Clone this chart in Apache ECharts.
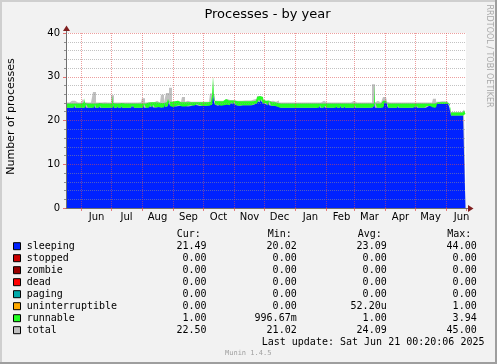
<!DOCTYPE html>
<html><head><meta charset="utf-8">
<script src="https://cdn.jsdelivr.net/npm/echarts@6/dist/echarts.min.js"></script>
<style>html,body{margin:0;padding:0;background:#f2f2f2}#c{width:497px;height:364px}</style>
</head><body><div id="c"></div>
<script>
// ---- data ----
const startDay = [2024, 4, 17];   // first daily sample (May 17 2024), one sample per day
const dayCount = 400;
const monthNames = ['Jan','Feb','Mar','Apr','May','Jun','Jul','Aug','Sep','Oct','Nov','Dec'];
const yTicks = [0, 10, 20, 30, 40];

const sleeping = [
22.9,22.9,22.9,22.9,22.9,22.9,22.9,22.9,23.6,22.9,22.9,22.9,22.9,22.9,22.9,22.9,22.9,22.9,22.9,23.7,
22.9,22.9,22.9,22.9,22.9,22.9,22.9,22.9,23.7,22.9,22.9,22.9,22.9,23.4,22.9,22.9,22.9,22.9,22.9,22.9,
22.9,22.9,22.9,22.9,22.9,22.9,22.9,23.8,22.9,22.9,22.9,23.4,22.9,22.9,22.9,23.4,22.9,22.9,22.9,22.9,
22.9,22.9,22.9,22.9,22.9,23.5,22.9,23.5,22.9,22.9,22.9,22.9,22.9,22.9,22.9,22.9,22.9,23.8,22.9,22.9,
22.9,22.9,22.9,23.5,23.0,23.0,23.6,23.0,23.1,23.0,22.9,23.0,23.1,23.0,22.9,23.0,23.2,23.0,24.0,23.1,
23.2,23.3,24.6,24.0,23.3,23.2,23.3,23.1,23.4,23.2,23.3,23.2,23.3,23.5,23.2,23.3,23.2,23.1,23.3,23.2,
23.3,23.2,23.4,23.6,23.3,23.5,23.3,23.6,23.4,23.3,23.5,23.7,23.4,23.3,23.5,23.6,23.4,23.3,23.5,23.4,
23.4,23.3,23.5,23.4,23.5,23.6,25.2,26.1,24.2,23.6,23.5,23.4,23.6,23.5,23.7,23.4,23.5,23.6,23.5,23.4,
24.0,23.6,23.8,23.5,24.2,23.7,23.6,24.4,23.8,23.6,23.5,23.4,23.5,23.4,23.5,23.6,23.5,23.5,23.6,23.5,
23.5,23.6,23.5,23.4,23.6,23.5,23.6,23.5,23.7,23.8,23.9,24.4,24.8,24.2,25.0,24.4,24.0,23.9,24.3,24.0,
23.6,23.4,24.5,23.5,23.3,23.4,23.5,23.3,23.4,23.4,23.3,23.2,22.9,22.9,22.9,23.3,22.9,22.9,22.9,22.9,
22.9,22.9,22.9,22.9,22.9,22.9,22.9,22.9,22.9,22.9,23.3,22.9,22.9,22.9,22.9,22.9,22.9,22.9,22.9,22.9,
22.9,22.9,22.9,22.9,22.9,22.9,22.9,22.9,22.9,22.9,22.9,22.9,22.9,23.5,22.9,22.9,22.9,22.9,23.4,22.9,
22.9,22.9,22.9,22.9,22.9,22.9,22.9,22.9,22.9,22.9,23.4,22.9,22.9,22.9,23.5,22.9,22.9,22.9,23.4,22.9,
22.9,22.9,22.9,22.9,22.9,22.9,22.9,22.9,23.5,22.9,22.9,22.9,22.9,22.9,22.9,22.9,22.9,22.9,22.9,22.9,
22.9,22.9,22.9,22.9,22.9,22.9,23.0,23.2,24.2,22.9,23.3,22.9,22.9,22.9,22.9,23.2,22.9,23.4,24.2,24.2,
24.0,23.4,22.9,22.9,22.9,22.9,22.9,22.9,22.9,22.9,22.9,23.4,22.9,22.9,22.9,22.9,22.9,22.9,22.9,22.9,
22.9,22.9,22.9,22.9,22.9,22.9,22.9,22.9,23.4,22.9,23.4,22.9,22.9,22.9,22.9,22.9,22.9,22.9,22.9,22.9,
22.9,23.3,23.3,23.3,23.3,23.3,23.3,23.0,23.0,23.0,23.8,23.8,23.8,23.8,23.8,23.8,23.8,23.8,23.8,23.8,
23.8,23.8,23.8,23.2,22.2,21.15,21.15,21.15,21.15,21.15,21.15,21.15,21.15,21.15,21.15,21.15,21.15,21.15,21.5,21.5
];
const runnable = [
1,1,1,1,1,1,1,1,0.3,1,1,1,1,1,1,1,1,1.3,2.2,0.3,
1,1,1,1,1,1,1,1,0.3,1,1,1,1,0.6,1,1,1,1,1,1,
1,1,1,1,1,1,2.8,0.2,1,1,1,0.6,1,1,1,0.6,1,1,1,1,
1,1,1,1,1,0.4,1,0.4,1,1,1,1,1,1,1,1,1,0.2,1,1,
1,1.2,1.2,0.7,1.2,1.2,0.6,1.1,1.1,1.2,1.6,1.1,1.0,1.0,1.1,1.0,0.9,1.0,0.2,1.0,
1.0,1.0,0.3,0.3,1.0,1.1,1.0,1.1,1.0,1.1,1.0,1.3,1.2,0.8,1.0,1.0,1.0,1.1,0.9,1.0,
0.9,1.0,0.8,0.6,0.9,0.7,0.9,0.6,0.8,0.9,0.7,0.5,0.8,0.9,0.7,0.6,0.8,0.9,0.7,0.8,
0.8,0.9,0.7,0.8,0.8,0.8,0.6,3.9,0.3,0.8,0.9,1.0,0.8,0.9,0.7,1.0,0.9,0.8,1.3,1.5,
0.8,1.0,0.8,1.1,0.5,0.9,1.0,0.3,0.8,0.9,0.9,1.0,0.9,1.0,0.9,0.8,0.9,0.9,0.8,0.9,
0.9,0.8,0.9,1.0,0.8,0.9,0.8,0.9,0.8,0.7,0.8,1.0,0.8,1.4,0.6,1.0,1.4,0.9,0.3,0.5,
0.6,0.8,0.1,0.7,0.9,0.8,0.7,0.9,0.8,0.8,0.8,0.8,1.0,1.0,1.0,0.6,1.0,1.0,1.0,1.0,
1,1,1,1,1,1,1,1,1,1,0.6,1,1,1,1,1,1,1,1,1,
1,1,1,1,1,1,1,1,1,1,1,1,1,0.4,1,1,1,1,0.5,1,
1,1,1,1,1,1,1,1,1,1,0.5,1,1,1,0.4,1,1,1,0.5,1,
1,1,1,1,1,1,1,1.4,0.4,1,1,1,1,1,1,1,1,1,1,1,
1,1,1,1,1,1,0.9,0.7,3.9,1,0.6,1,1,1,1,0.7,1,1.1,0.3,0.3,
0.5,0.5,1,1,1,1,1,1,1,1,1,0.5,1,1,1,1,1,1,1,1,
1,1,1,1,1,1,1,1,0.5,1,0.5,1,1,1,1,1,1,1,1,1,
1,0.6,0.6,0.6,0.6,0.6,0.6,0.9,0.9,0.9,0.4,0.4,0.4,0.4,0.4,0.4,0.6,0.4,0.6,0.4,
0.4,0.4,0.4,0.6,0.5,0.7,0.7,0.7,0.7,0.7,0.7,0.7,0.7,0.7,0.7,0.7,0.7,0.7,0.9,1.0
];
const total = [
24.1,24.1,24.1,24.1,24.1,24.1,24.5,24.5,24.5,24.1,24.1,24.1,24.1,24.1,24.1,24.1,24.1,24.9,25.1,24.2,
24.1,24.1,24.1,24.1,24.1,24.1,24.1,26.5,26.5,26.5,24.1,24.1,24.1,24.1,24.1,24.1,24.2,24.2,24.2,24.1,
24.1,24.1,24.1,24.1,24.1,25.8,25.8,25.8,24.1,24.1,24.1,24.1,24.1,24.1,24.1,24.1,24.1,24.1,24.1,24.1,
24.1,24.1,24.1,24.1,24.1,24.1,24.1,24.1,24.1,24.1,24.1,24.1,24.1,24.2,24.2,24.2,25.1,25.1,25.1,24.1,
24.1,24.2,24.2,24.2,24.2,24.2,24.2,24.1,24.1,24.2,24.5,24.2,24.1,24.1,24.1,25.9,25.9,25.9,24.2,24.1,
26.3,26.3,26.3,27.5,27.5,27.5,24.3,24.3,24.3,24.3,24.3,24.5,24.5,24.3,24.3,24.3,25.4,25.4,25.4,24.3,
24.3,24.5,24.5,24.5,24.3,24.3,24.3,24.3,24.3,24.3,24.3,24.3,24.3,24.3,24.3,24.3,24.3,24.3,24.3,24.3,
24.3,24.3,24.3,24.3,26.2,26.2,26.2,30.2,26.2,24.6,24.6,24.5,24.5,24.5,24.5,24.5,24.5,24.5,24.9,24.9,
24.9,24.7,24.7,24.7,24.7,24.7,24.7,24.7,24.7,24.5,24.5,24.5,24.5,24.5,24.5,24.5,24.6,24.6,24.6,24.6,
24.6,24.6,24.6,24.6,24.6,24.8,24.8,24.8,25.0,25.0,25.0,25.6,25.6,25.6,25.6,25.6,25.4,25.0,24.6,24.6,
24.4,24.4,24.6,24.4,24.4,24.5,24.5,24.5,24.5,24.3,24.6,24.6,24.6,24.1,24.1,24.1,24.1,24.1,24.1,24.1,
24.1,24.1,24.1,24.1,24.1,24.1,24.1,24.1,24.1,24.1,24.1,24.1,24.1,24.1,24.1,24.1,24.1,24.1,24.1,24.1,
24.1,24.1,24.1,24.1,24.1,24.1,24.1,24.1,24.1,24.1,24.1,24.1,24.1,24.1,24.1,24.5,24.5,24.5,24.1,24.1,
24.1,24.1,24.1,24.1,24.1,24.1,24.1,24.1,24.1,24.1,24.1,24.1,24.1,24.1,24.1,24.1,24.1,24.1,24.1,24.1,
24.1,24.1,24.1,24.1,24.1,24.1,24.5,24.5,24.5,24.1,24.1,24.1,24.1,24.1,24.1,24.1,24.1,24.1,24.1,24.1,
24.1,24.1,24.1,24.1,24.1,24.1,28.3,28.3,28.3,24.1,24.1,24.5,24.5,24.5,24.1,24.3,24.3,25.4,25.4,25.4,
25.4,24.3,24.1,24.1,24.1,24.1,24.1,24.1,24.1,24.1,24.1,24.1,24.1,24.1,24.1,24.1,24.1,24.1,24.1,24.1,
24.1,24.1,24.1,24.1,24.1,24.1,24.1,24.1,24.1,24.1,24.1,24.1,24.1,24.1,24.1,24.1,24.1,24.1,24.1,24.1,
24.1,24.1,24.1,24.1,24.1,24.1,24.1,25.0,25.0,25.0,24.3,24.3,24.3,24.3,24.3,24.4,24.4,24.4,24.4,24.4,
24.3,24.3,24.3,23.9,22.8,21.95,21.95,21.95,21.95,21.95,21.95,21.95,21.95,21.95,21.95,21.95,21.95,21.95,22.5,22.5
];

const legendNames = ['sleeping','stopped','zombie','dead','paging','uninterruptible','runnable','total'];
const legendColors = ['#0022ff','#cc0000','#990000','#ff0000','#00aaaa','#ffaa00','#22ff22','#c0c0c0'];
const curVals = ['21.49','0.00','0.00','0.00','0.00','0.00','1.00','22.50'];
const minVals = ['20.02','0.00','0.00','0.00','0.00','0.00','996.67m','21.02'];
const avgVals = ['23.09','0.00','0.00','0.00','0.00','52.20u','1.00','24.09'];
const maxVals = ['44.00','0.00','0.00','0.00','0.00','1.00','3.94','45.00'];
const colHeaders = ['Cur:','Min:','Avg:','Max:'];
const titleText = 'Processes - by year';
const yAxisTitle = 'Number of processes';
const sideText = 'RRDTOOL / TOBI OETIKER';
const lastUpdate = 'Last update: Sat Jun 21 00:20:06 2025';
const versionText = 'Munin 1.4.5';

// ---- build ----
const days = [];
const t0 = Date.UTC(startDay[0], startDay[1], startDay[2]);
for (let i = 0; i < dayCount; i++) days.push(new Date(t0 + i * 86400000).toISOString().slice(0, 10));
const monthStarts = days.filter(v => v.slice(8) === '01');

const MONO = '"DejaVu Sans Mono", monospace';
const SANS = '"DejaVu Sans", sans-serif';
const G = [];
function txt(x, y, text, opt) {
  opt = opt || {};
  G.push({type:'text', x:x, y:y, rotation:opt.rot || 0, z:10, silent:true,
    style:{text:text, fill:opt.fill || '#000', font:(opt.font || ('10px ' + MONO)),
      textAlign:opt.align || 'left', textVerticalAlign:'middle', align:opt.align || 'left', verticalAlign:'middle'}});
}
// border
G.push({type:'rect', shape:{x:0,y:0,width:497,height:2}, style:{fill:'#cfcfcf'}, silent:true});
G.push({type:'rect', shape:{x:0,y:0,width:2,height:364}, style:{fill:'#cfcfcf'}, silent:true});
G.push({type:'rect', shape:{x:0,y:362,width:497,height:2}, style:{fill:'#9e9e9e'}, silent:true});
G.push({type:'rect', shape:{x:495,y:0,width:2,height:364}, style:{fill:'#9e9e9e'}, silent:true});
// axis extensions and arrows
G.push({type:'line', shape:{x1:66.5,y1:29,x2:66.5,y2:33}, style:{stroke:'#707070',lineWidth:1}, z:10, silent:true});
G.push({type:'polygon', shape:{points:[[63,31],[66.5,25.5],[70,31]]}, style:{fill:'#801f1f'}, z:10, silent:true});
G.push({type:'line', shape:{x1:466,y1:208.5,x2:469,y2:208.5}, style:{stroke:'#707070',lineWidth:1}, z:10, silent:true});
G.push({type:'polygon', shape:{points:[[468,205],[473.5,208.5],[468,212]]}, style:{fill:'#801f1f'}, z:10, silent:true});
// titles
txt(267.5, 14.5, titleText, {align:'center', font:'13px ' + SANS});
txt(11, 116.5, yAxisTitle, {align:'center', font:'11px ' + SANS, rot:Math.PI/2});
txt(489.5, 56, sideText, {align:'center', font:'8px ' + SANS, fill:'#a8a8a8', rot:-Math.PI/2});
// legend table
const headX = [176.7, 267.7, 357.7, 447.3];
const valX = [206.5, 296.7, 386.7, 476.7];
colHeaders.forEach((h, k) => txt(headX[k], 234.5, h));
legendNames.forEach((n, r) => {
  const y = 246.7 + r * 12;
  G.push({type:'rect', shape:{x:13.5, y:y - 4, width:7, height:7}, style:{fill:legendColors[r], stroke:'#000', lineWidth:1}, z:10, silent:true});
  txt(26.7, y, n);
  [curVals, minVals, avgVals, maxVals].forEach((arr, k) => txt(valX[k], y, arr[r], {align:'right'}));
});
txt(261.7, 342.3, lastUpdate);
txt(225, 353.5, versionText, {font:'7px ' + MONO, fill:'#a0a0a0'});

const isFirst = (i, v) => v.slice(8) === '01';
const isMid = (i, v) => v.slice(8) === '16';

const chart = echarts.init(document.getElementById('c'), null, {renderer:'canvas'});
chart.setOption({
  animation:false,
  backgroundColor:'#f2f2f2',
  grid:{left:66, top:33, width:400, height:175, show:true, backgroundColor:'#ffffff', borderWidth:0, containLabel:false},
  xAxis:{type:'category', data:days, boundaryGap:true, z:5,
    axisLine:{show:true, lineStyle:{color:'#707070', width:1}},
    axisTick:{show:true, length:3, interval:isFirst, lineStyle:{color:'rgba(222,79,79,0.7)'}},
    axisLabel:{show:true, interval:isMid, formatter:v => monthNames[+v.slice(5,7) - 1], fontSize:10, fontFamily:SANS, color:'#000', margin:4},
    splitLine:{show:false}
  },
  yAxis:{type:'value', min:yTicks[0], max:yTicks[yTicks.length-1], interval:10, z:5,
    axisLine:{show:true, lineStyle:{color:'#707070', width:1}},
    axisTick:{show:true, length:3, lineStyle:{color:'rgba(222,79,79,0.8)'}},
    minorTick:{show:true, splitNumber:5, length:2, lineStyle:{color:'#8f8f8f'}},
    axisLabel:{fontSize:10, fontFamily:SANS, color:'#000', margin:6, padding:[3,0,0,0]},
    splitLine:{show:true, lineStyle:{color:'rgba(222,79,79,0.55)', type:[1,1], width:1}},
    minorSplitLine:{show:true, lineStyle:{color:'rgba(143,143,143,0.55)', type:[1,1], width:1}}
  },
  series:[
    {name:'total', type:'line', data:total, step:'middle', symbol:'none', silent:true,
      lineStyle:{width:0, color:'#c0c0c0'}, areaStyle:{color:'#c0c0c0', opacity:1}},
    {name:'sleeping', type:'line', stack:'p', data:sleeping, step:'middle', symbol:'none', silent:true,
      lineStyle:{width:0, color:'#0022ff'}, areaStyle:{color:'#0022ff', opacity:1}},
    {name:'runnable', type:'line', stack:'p', data:runnable, step:'middle', symbol:'none', silent:true,
      lineStyle:{width:0, color:'#22ff22'}, areaStyle:{color:'#22ff22', opacity:1},
      markLine:{silent:true, symbol:'none', label:{show:false}, animation:false,
        lineStyle:{color:'rgba(222,79,79,0.55)', type:[1,1], width:1},
        data:monthStarts.map(d => ({xAxis:d}))}}
  ],
  graphic:G
});
</script>
</body></html>
